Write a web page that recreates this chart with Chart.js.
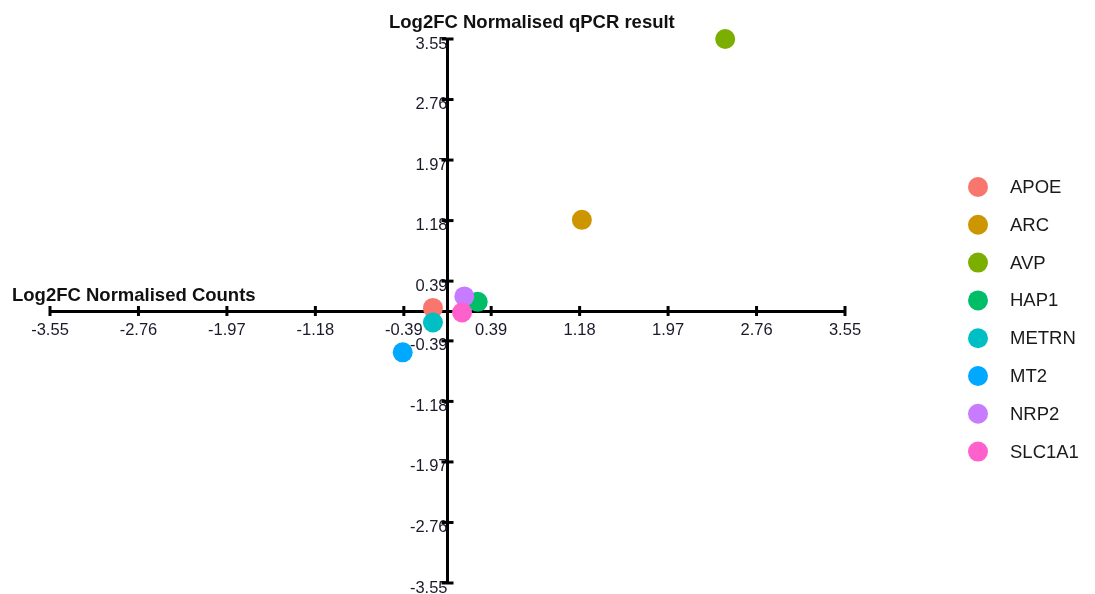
<!DOCTYPE html>
<html>
<head>
<meta charset="utf-8">
<script src="https://cdn.jsdelivr.net/npm/chart.js@4.4.1/dist/chart.umd.min.js"></script>
<style>
  html, body { margin: 0; padding: 0; background: #ffffff; }
  #wrap { width: 1095px; height: 594px; position: relative; }
</style>
</head>
<body>
<div id="wrap"><canvas id="c" width="1095" height="594"></canvas></div>
<script>
// ---- data ----
const genes = ["APOE", "ARC", "AVP", "HAP1", "METRN", "MT2", "NRP2", "SLC1A1"];
const countsLog2FC = [-0.13, 1.20, 2.48, 0.27, -0.13, -0.40, 0.15, 0.13];   // x
const qpcrLog2FC   = [0.04, 1.19, 3.55, 0.12, -0.15, -0.54, 0.19, -0.02];    // y
const geneColors = ["#F8766D", "#CD9600", "#7CAE00", "#00BE67", "#00BFC4", "#00A9FF", "#C77CFF", "#FF61CC"];
const tickValues = [-3.55, -2.76, -1.97, -1.18, -0.39, 0.39, 1.18, 1.97, 2.76, 3.55];
const xTitle = "Log2FC Normalised Counts";
const yTitle = "Log2FC Normalised qPCR result";

const datasets = genes.map((g, i) => ({
  label: g,
  data: [{ x: countsLog2FC[i], y: qpcrLog2FC[i] }],
  backgroundColor: geneColors[i],
  pointBackgroundColor: geneColors[i],
  pointBorderWidth: 0,
  pointRadius: 10,
  pointHoverRadius: 10,
  clip: false,
  order: genes.length - 1 - i
}));

const FONT = "'Liberation Sans', Arial, sans-serif";

const decorPlugin = {
  id: 'decor',
  afterDraw(chart) {
    const ctx = chart.ctx;
    const xs = chart.scales.x, ys = chart.scales.y;
    const x0 = xs.getPixelForValue(0), y0 = ys.getPixelForValue(0);
    ctx.save();
    // crossing tick marks
    ctx.strokeStyle = '#000';
    ctx.lineWidth = 3;
    tickValues.forEach(v => {
      const px = xs.getPixelForValue(v);
      ctx.beginPath(); ctx.moveTo(px, y0 - 5); ctx.lineTo(px, y0 + 5); ctx.stroke();
      const py = ys.getPixelForValue(v);
      ctx.beginPath(); ctx.moveTo(x0 - 6, py); ctx.lineTo(x0 + 6, py); ctx.stroke();
    });
    // axis titles
    ctx.fillStyle = '#111';
    ctx.font = 'bold 18.5px ' + FONT;
    ctx.textAlign = 'left';
    ctx.textBaseline = 'alphabetic';
    ctx.fillText(xTitle, 12, 301);
    ctx.fillText(yTitle, 389, 28);
    // legend
    ctx.font = '18.5px ' + FONT;
    ctx.textBaseline = 'middle';
    const ly0 = 187, lstep = 37.8;
    chart.data.datasets.forEach((ds, i) => {
      const cy = ly0 + i * lstep;
      ctx.fillStyle = ds.backgroundColor;
      ctx.beginPath(); ctx.arc(978, cy, 10, 0, Math.PI * 2); ctx.fill();
      ctx.fillStyle = '#1a1a1a';
      ctx.fillText(ds.label, 1010, cy + 1);
    });
    ctx.restore();
  }
};

new Chart(document.getElementById('c'), {
  type: 'scatter',
  data: { datasets },
  options: {
    responsive: false,
    animation: false,
    events: [],
    layout: { padding: { left: 50, right: 250, top: 39, bottom: 11 } },
    plugins: { legend: { display: false }, tooltip: { enabled: false } },
    scales: {
      x: {
        type: 'linear',
        min: -3.55, max: 3.55,
        position: { y: 0 },
        afterBuildTicks: (s) => { s.ticks = tickValues.map(v => ({ value: v })); },
        grid: { display: true, drawOnChartArea: false, drawTicks: false },
        border: { display: true, color: '#000', width: 3 },
        ticks: {
          color: '#1a1a2a',
          font: { family: FONT, size: 16.5 },
          padding: 10,
          maxRotation: 0,
          autoSkip: false,
          callback: (v) => v.toFixed(2)
        }
      },
      y: {
        type: 'linear',
        min: -3.55, max: 3.55,
        position: { x: 0 },
        afterBuildTicks: (s) => { s.ticks = tickValues.map(v => ({ value: v })); },
        grid: { display: true, drawOnChartArea: false, drawTicks: false },
        border: { display: true, color: '#000', width: 3 },
        ticks: {
          color: '#1a1a2a',
          font: { family: FONT, size: 16.5 },
          padding: 0,
          labelOffset: 5,
          autoSkip: false,
          callback: (v) => v.toFixed(2)
        }
      }
    }
  },
  plugins: [decorPlugin]
});
</script>
</body>
</html>
